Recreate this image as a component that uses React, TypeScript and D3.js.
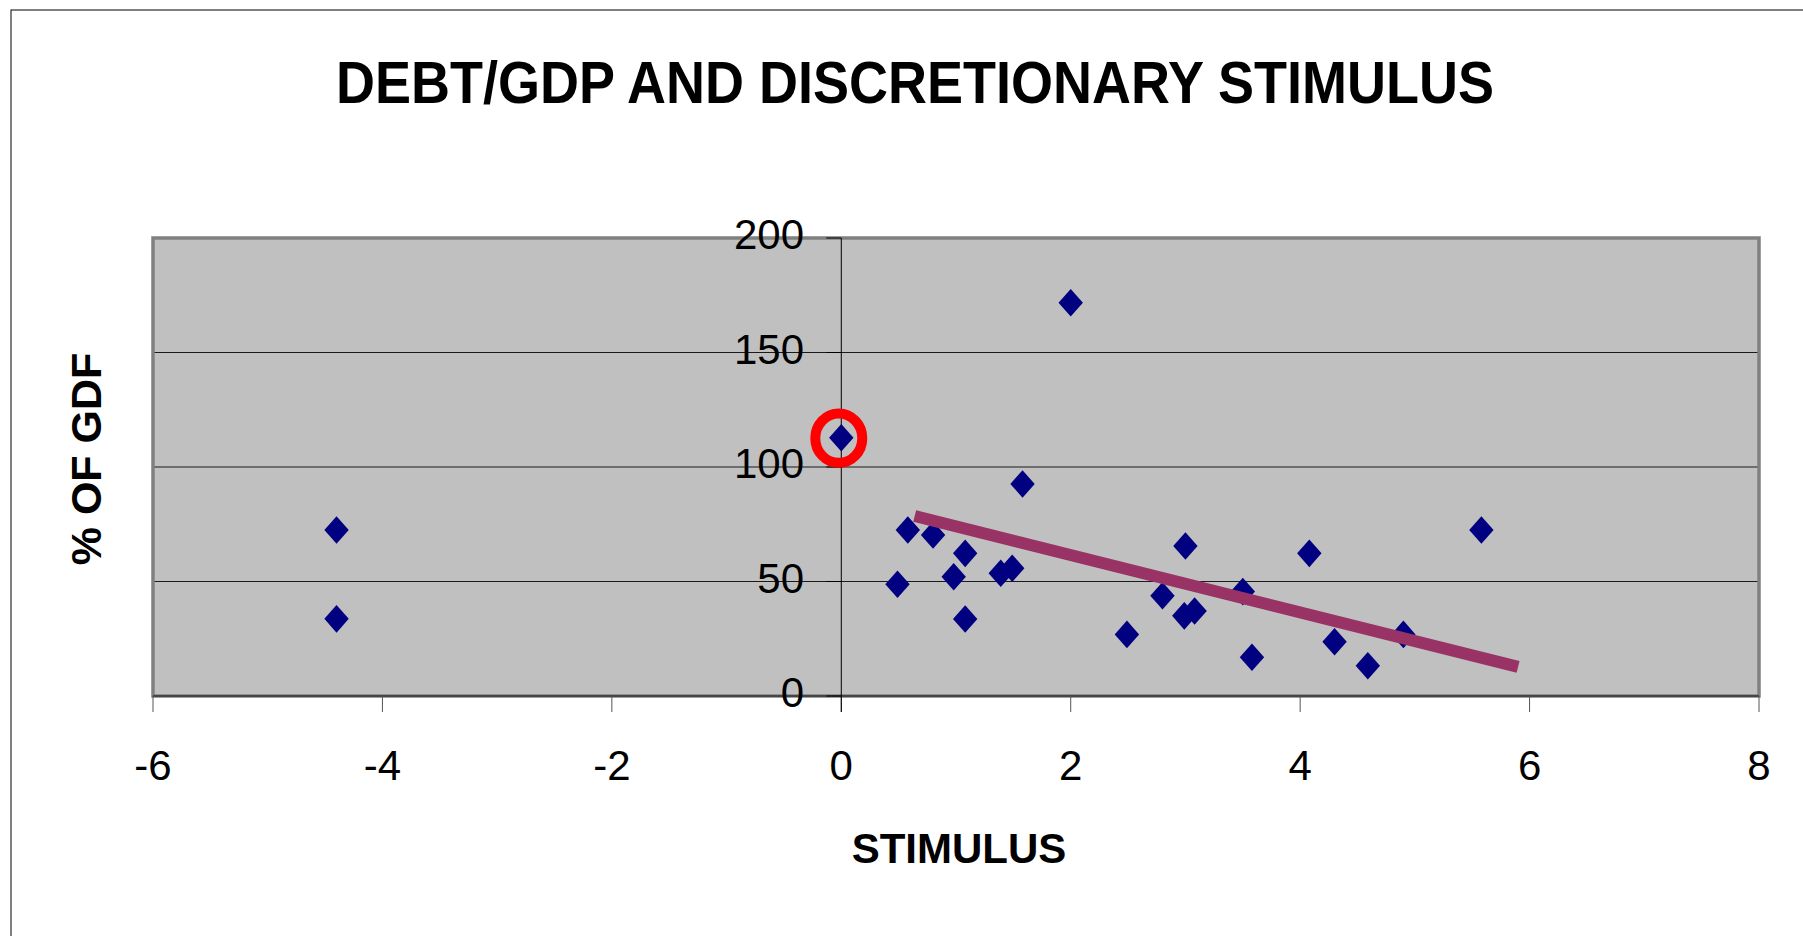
import React from "react";
import * as d3 from "d3";

// stimulus (% of GDP) vs debt/GDP
const stimulus = [-4.4, -4.4, 0, 2.0, 1.58, 0.58, 0.8, 0.49, 1.08, 0.98, 1.08, 1.39, 1.49, 2.49, 2.8, 3.0, 2.99, 3.08, 3.5, 3.58, 4.08, 4.3, 4.59, 4.9, 5.58];
const debt = [72.5, 33.7, 112.8, 171.7, 92.6, 72.5, 70.3, 48.8, 62.3, 52.1, 33.6, 53.6, 55.8, 26.9, 43.8, 65.5, 35, 37.1, 45.6, 16.9, 62.3, 23.7, 13.2, 26.9, 72.5];

// hand drawn trend line
const trendX = [0.64, 5.9];
const trendY = [78.6, 12.7];

// circled point
const highlightX = 0;
const highlightY = 112.6;

const xTicks = [-6, -4, -2, 0, 2, 4, 6, 8];
const yTicks = [0, 50, 100, 150, 200];

const W = 1803;
const H = 936;

export default function App() {
  const x = d3.scaleLinear().domain([-6, 8]).range([153, 1759]);
  const y = d3.scaleLinear().domain([0, 200]).range([696, 238]);

  const diamond = (cx: number, cy: number) => {
    const w = 12.2, h = 13.8;
    return `M${cx},${cy - h}L${cx + w},${cy}L${cx},${cy + h}L${cx - w},${cy}Z`;
  };

  const trend = d3.line<number>()
    .x((d) => x(d))
    .y((_, i) => y(trendY[i]))(trendX);

  const font = "Arial, 'Liberation Sans', sans-serif";

  return (
    <svg width={W} height={H} style={{ position: "absolute", left: 0, top: 0, background: "#fff" }} fontFamily={font}>
      {/* outer chart frame */}
      <rect x={11} y={10} width={W} height={H} fill="#fff" stroke="#000" strokeWidth={1} />

      <text x={915} y={103} textAnchor="middle" fontWeight="bold" fontSize={59}
        textLength={1158} lengthAdjust="spacingAndGlyphs">
        DEBT/GDP AND DISCRETIONARY STIMULUS
      </text>

      {/* plot area */}
      <rect x={x(-6)} y={y(200)} width={x(8) - x(-6)} height={y(0) - y(200)} fill="#c0c0c0" />
      {yTicks.filter((t) => t > 0 && t < 200).map((t) => (
        <line key={"g" + t} x1={x(-6)} x2={x(8)} y1={y(t)} y2={y(t)} stroke="#1a1a1a" strokeWidth={1.2} />
      ))}
      <rect x={x(-6)} y={y(200)} width={x(8) - x(-6)} height={y(0) - y(200)} fill="none" stroke="#808080" strokeWidth={3.5} />

      {/* x axis */}
      <line x1={x(-6)} x2={x(8)} y1={y(0)} y2={y(0)} stroke="#333" strokeWidth={1.5} />
      {xTicks.map((t) => (
        <g key={"x" + t}>
          <line x1={x(t)} x2={x(t)} y1={y(0)} y2={y(0) + 16} stroke="#555" strokeWidth={1} />
          <text x={x(t)} y={780} textAnchor="middle" fontSize={42}>{t}</text>
        </g>
      ))}

      {/* y axis at x = 0 */}
      <line x1={x(0)} x2={x(0)} y1={y(200)} y2={y(0) + 16} stroke="#000" strokeWidth={1} />
      {yTicks.map((t) => (
        <g key={"y" + t}>
          <line x1={x(0) - 15} x2={x(0)} y1={y(t)} y2={y(t)} stroke="#000" strokeWidth={1} />
          <text x={804} y={y(t) + 11} textAnchor="end" fontSize={42}>{t}</text>
        </g>
      ))}

      {/* points */}
      {stimulus.map((s, i) => (
        <path key={"p" + i} d={diamond(x(s), y(debt[i]))} fill="#000080" />
      ))}

      <path d={trend || ""} stroke="#993366" strokeWidth={12} fill="none" strokeLinecap="butt" />

      <ellipse cx={x(highlightX) - 2.5} cy={y(highlightY)} rx={23.5} ry={24.7} fill="none" stroke="#ff0000" strokeWidth={10} />

      <text x={959} y={863} textAnchor="middle" fontWeight="bold" fontSize={42}>STIMULUS</text>
      <text transform="translate(101,459) rotate(-90)" textAnchor="middle" fontWeight="bold" fontSize={43}>% OF GDF</text>
    </svg>
  );
}
